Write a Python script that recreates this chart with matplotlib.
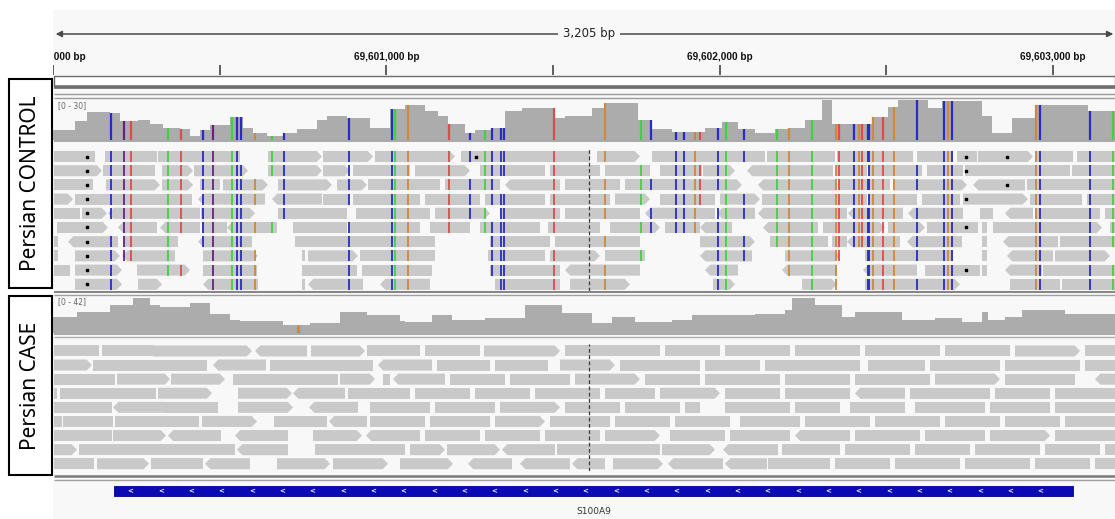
import matplotlib
matplotlib.use("Agg")
import matplotlib.pyplot as plt
from matplotlib.patches import Polygon, Rectangle
from matplotlib.collections import PatchCollection, LineCollection
import numpy as np

W, H = 1115, 519
START = 69_600_000          # genomic position of the left edge of the view
VIEW_BP = 3186              # visible width in bp
CENTER = 1608               # centre line offset (bp)
SPAN_LABEL = "3,205 bp"
TICK_POS = [0, 1000, 2000, 3000]
TICK_LABELS = ["69,600,000 bp", "69,601,000 bp", "69,602,000 bp", "69,603,000 bp"]
MINOR_TICKS = [500, 1500, 2500]

# ---- coverage (step profiles: offset in bp -> depth) ----
ctrl_cov_pos = [0, 66, 102, 171, 201, 255, 291, 330, 381, 411, 441, 471, 531, 570, 600, 642, 690,
                732, 792, 822, 882, 951, 1011, 1056, 1116, 1155, 1185, 1236, 1266, 1317, 1356, 1407,
                1506, 1536, 1617, 1656, 1755, 1797, 1857, 1956, 2007, 2055, 2106, 2166, 2205, 2256,
                2307, 2337, 2457, 2505, 2535, 2625, 2667, 2787, 2817, 2877, 2946, 3105]
ctrl_cov_val = [7, 14, 21, 20, 14, 15, 12, 9, 8, 3, 7, 11, 17, 9, 5, 3, 5,
                8, 15, 18, 16, 9, 23, 26, 22, 18, 12, 5, 7, 9, 22, 24,
                16, 18, 24, 28, 15, 8, 6, 9, 13, 8, 5, 8, 9, 15,
                30, 12, 17, 25, 30, 24, 29, 18, 5, 16, 26, 22]
case_cov_pos = [0, 72, 171, 240, 291, 321, 411, 471, 531, 561, 690, 771, 861, 942, 1041, 1056, 1137,
                1197, 1296, 1416, 1527, 1617, 1677, 1746, 1857, 1917, 2106, 2196, 2217, 2286, 2367,
                2406, 2547, 2646, 2727, 2787, 2805, 2856, 2907, 3036]
case_cov_val = [18, 24, 32, 40, 32, 30, 34, 22, 15, 14, 9, 11, 24, 20, 14, 13, 20,
                15, 17, 32, 23, 11, 18, 13, 15, 20, 22, 26, 40, 32, 18,
                24, 15, 17, 13, 24, 15, 18, 26, 22]

# ---- mismatches (offset bp, base) ----
ctrl_mm_pos = [174, 213, 234, 345, 384, 450, 480, 537, 552, 564, 606, 657, 693, 888, 1017, 1026, 1065,
               1188, 1251, 1296, 1317, 1344, 1353, 1503, 1656, 1764, 1794, 1869, 1893, 1926, 1941,
               1995, 2019, 2073, 2172, 2208, 2277, 2349, 2358, 2403, 2418, 2427, 2445, 2448, 2460,
               2490, 2523, 2592, 2673, 2685, 2697, 2949, 2961, 3111, 3180]
ctrl_mm_base = ["C", "P", "T", "A", "T", "C", "P", "A", "C", "C", "G", "A", "C", "C", "C", "A", "G",
                "T", "C", "A", "C", "C", "C", "T", "G", "A", "C", "C", "C", "G", "T",
                "C", "A", "C", "A", "G", "A", "G", "T", "C", "G", "T", "C", "C", "G",
                "T", "G", "C", "C", "G", "C", "G", "C", "C", "A"]
case_mm_pos = [735]
case_mm_base = ["G"]
case_mm_depth = [9]
BASE_COLORS = {"A": "#3fd23f", "C": "#2a2ac8", "G": "#d0883a", "T": "#e04a4a", "P": "#6a1f86"}

# ---- reads: (start, end, strand) per row; strand +1 '>' , -1 '<', 0 blunt ----
ctrl_reads = [
    [(3,126,0),(156,312,0),(315,561,0),(645,807,1),(810,960,1),(966,1206,1),(1224,1611,0),(1632,1761,1),
     (1797,1941,0),(1941,2136,0),(2142,2346,0),(2352,2580,0),(2592,2700,0),(2712,2772,0),(2775,2940,1),
     (2946,3060,0),(3072,3186,0)],
    [(3,147,1),(150,306,0),(327,420,1),(423,585,1),(645,807,1),(810,891,1),(900,1071,0),(1086,1251,1),
     (1281,1476,0),(1491,1641,0),(1656,1791,0),(1821,1947,0),(1950,2046,1),(2082,2340,-1),(2346,2442,0),
     (2445,2607,0),(2622,2730,0),(2736,3051,0),(3057,3186,0)],
    [(3,120,0),(159,321,1),(327,420,1),(441,501,0),(510,645,1),(675,837,1),(852,942,1),(945,1161,0),
     (1176,1341,0),(1356,1521,-1),(1536,1701,0),(1716,1911,0),(1911,2067,1),(2115,2352,-1),(2355,2511,0),
     (2520,2742,1),(2760,2916,-1),(2922,3186,0)],
    [(3,60,1),(66,207,0),(207,417,0),(435,636,-1),(657,807,-1),(810,891,0),(900,1101,0),(1116,1281,0),
     (1296,1476,0),(1491,1671,0),(1686,1791,1),(1821,1986,0),(2001,2121,1),(2127,2286,0),(2286,2442,0),
     (2445,2592,0),(2607,2721,0),(2730,2925,1),(2931,3087,0),(3102,3186,0)],
    [(3,81,0),(87,162,1),(165,441,-1),(444,606,1),(675,882,0),(909,1131,0),(1146,1311,1),(1341,1521,0),
     (1536,1761,0),(1776,1941,-1),(1941,1986,0),(1992,2106,-1),(2115,2382,-1),(2385,2550,-1),(2565,2730,-1),
     (2781,2820,0),(2856,2940,-1),(2946,3141,0),(3156,3186,0)],
    [(12,165,1),(195,312,-1),(321,441,-1),(447,522,0),(522,672,-1),(720,882,0),(885,1101,0),(1131,1251,0),
     (1281,1461,0),(1485,1641,0),(1671,1821,1),(1836,1941,0),(1941,2037,-1),(2130,2295,-1),(2310,2337,0),
     (2337,2496,1),(2505,2616,1),(2622,2730,0),(2730,2775,0),(2787,2802,0),(2820,2982,0),(2982,3147,1),
     (3171,3186,0)],
    [(3,15,0),(45,195,-1),(210,375,0),(435,597,-1),(726,876,0),(876,1041,0),(1041,1146,0),(1311,1491,0),
     (1506,1761,0),(1941,2106,1),(2151,2325,0),(2337,2382,0),(2382,2541,-1),(2562,2727,-1),(2787,2802,0),
     (2850,3015,-1),(3021,3186,0)],
    [(3,15,0),(66,201,1),(207,366,-1),(450,615,1),(747,756,0),(765,915,1),(921,1146,0),(1305,1476,0),
     (1491,1641,1),(1656,1776,0),(1941,2097,-1),(2196,2361,1),(2436,2700,0),(2787,2802,0),(2862,3000,-1),
     (3006,3171,1)],
    [(3,51,0),(66,207,1),(252,411,1),(450,612,0),(747,912,0),(927,1137,0),(1311,1521,0),(1536,1761,-1),
     (1956,2055,-1),(2187,2352,-1),(2430,2592,-1),(2616,2781,0),(2787,2802,0),(2856,2967,-1),(2970,3186,0)],
    [(66,207,1),(255,327,1),(450,615,-1),(747,756,0),(765,930,-1),(981,1131,-1),(1326,1521,0),(1551,1731,1),
     (1980,2046,1),(2247,2352,1),(2436,2721,1),(2871,3021,0),(3027,3186,0)],
]
case_reads = [
    [(3,138,0),(147,300,0),(300,597,1),(606,762,-1),(774,936,1),(942,1101,0),(1116,1281,0),(1293,1521,1),
     (1536,1821,0),(1836,2001,0),(2016,2211,0),(2226,2421,0),(2436,2661,0),(2676,2871,0),(2886,3081,1),
     (3096,3186,0)],
    [(3,117,1),(120,375,0),(375,462,0),(480,639,-1),(651,807,0),(807,960,0),(975,1137,-1),(1152,1311,0),
     (1326,1485,0),(1521,1686,1),(1701,1941,0),(1956,2121,0),(2136,2421,0),(2445,2616,0),(2631,2841,0),
     (2856,3081,0),(3096,3186,0)],
    [(3,30,0),(30,186,0),(192,351,1),(354,516,1),(540,702,0),(702,855,0),(861,966,1),(990,1011,0),
     (1020,1176,-1),(1191,1356,0),(1371,1551,0),(1566,1761,1),(1776,1941,0),(1956,2181,0),(2196,2391,0),
     (2406,2631,0),(2646,2841,1),(2856,3066,0),(3126,3186,-1)],
    [(3,12,0),(21,309,0),(315,477,1),(555,717,1),(720,876,-1),(885,1071,0),(1086,1251,0),(1266,1431,0),
     (1446,1641,0),(1656,1806,0),(1821,2001,1),(2016,2181,0),(2196,2391,0),(2406,2556,-1),(2571,2811,0),
     (2826,2991,0),(3006,3186,0)],
    [(3,177,0),(180,336,-1),(336,495,0),(555,720,1),(768,915,-1),(951,1131,0),(1146,1326,0),(1341,1521,1),
     (1536,1701,0),(1716,1881,0),(1896,1941,0),(2016,2211,0),(2226,2361,0),(2391,2556,0),(2586,2796,0),
     (2811,2991,0),(3006,3186,0)],
    [(3,27,0),(30,180,0),(186,282,0),(282,438,0),(447,612,1),(663,822,0),(828,942,-1),(951,1116,0),
     (1131,1311,0),(1326,1476,1),(1491,1671,0),(1686,1851,0),(1866,2031,0),(2061,2241,0),(2256,2451,0),
     (2466,2661,0),(2676,2841,0),(2856,3021,0),(3036,3186,0)],
    [(3,177,0),(180,339,1),(345,504,-1),(546,705,-1),(780,927,1),(939,1101,-1),(1116,1281,0),(1296,1461,0),
     (1476,1641,0),(1656,1821,1),(1851,2016,0),(2031,2211,0),(2226,2391,-1),(2406,2601,0),(2616,2796,0),
     (2811,2991,1),(3006,3186,0)],
    [(3,72,1),(78,231,0),(231,390,0),(390,546,0),(552,705,-1),(786,942,0),(942,1056,0),(1071,1176,1),
     (1182,1341,1),(1347,1506,-1),(1512,1671,0),(1671,1821,0),(1827,1986,1),(2010,2175,-1),(2187,2361,0),
     (2376,2571,0),(2586,2751,0),(2766,2961,0),(2976,3141,0),(3156,3186,0)],
    [(3,123,0),(132,288,1),(294,450,0),(456,591,-1),(672,831,1),(840,1005,1),(1041,1200,1),(1245,1377,-1),
     (1401,1551,-1),(1557,1656,-1),(1680,1830,1),(1845,2010,-1),(2016,2142,-1),(2145,2331,0),(2346,2511,0),
     (2526,2721,0),(2736,2931,0),(2946,3111,0),(3126,3186,0)],
]
# insertion markers in control reads (row, offset bp)
ctrl_ins = [(0,102),(1,102),(2,102),(3,102),(4,102),(5,102),(6,102),(7,102),(8,102),(9,102),
            (0,1269),(0,2739),(1,2739),(3,2739),(5,2739),(8,2739),(0,2862),(2,2862)]

GENE_NAME = "S100A9"
GENE_START, GENE_END = 183, 3060

READ_COLOR = "#c9c9c9"
COV_COLOR = "#acacac"
PANEL_BG = "#f8f8f8"

fig = plt.figure(figsize=(W / 100, H / 100), dpi=100, facecolor="white")


def px_axes(x0, y0, x1, y1, z=1):
    ax = fig.add_axes([x0 / W, 1 - y1 / H, (x1 - x0) / W, (y1 - y0) / H], zorder=z)
    ax.set_axis_off()
    ax.patch.set_alpha(0)
    return ax


# ---------- background / decorations (pixel space) ----------
bg = px_axes(0, 0, W, H, z=0)
bg.set_xlim(0, W)
bg.set_ylim(H, 0)
bg.add_patch(Rectangle((53, 10), W - 53, H - 10, fc=PANEL_BG, ec="none"))
bg.add_patch(Rectangle((54, 75.5), W - 54, 11, fc="white", ec="#6a6a6a", lw=1.0))
for y, c, lw in [(87, "#6f6f6f", 2.6), (93.5, "#9c9c9c", 1.0), (98, "#9c9c9c", 1.0),
                 (141, "#a8a8a8", 1.4), (292, "#7a7a7a", 1.3), (295, "#a0a0a0", 1.0),
                 (334, "#9a9a9a", 1.2), (336.5, "#b0b0b0", 1.0), (476, "#7a7a7a", 1.8),
                 (479.5, "#a0a0a0", 1.0)]:
    bg.plot([54, W], [y, y], color=c, lw=lw, solid_capstyle="butt")
bg.add_patch(Rectangle((9, 79), 43, 209, fc="white", ec="black", lw=1.5))
bg.add_patch(Rectangle((9, 296), 43, 179, fc="white", ec="black", lw=1.5))
bg.text(31, 183.5, "Persian CONTROL", rotation=90, ha="center", va="center",
        fontsize=15, family="Noto Sans", color="black")
bg.text(31, 385.5, "Persian CASE", rotation=90, ha="center", va="center",
        fontsize=15, family="Noto Sans", color="black")

XL = (START, START + VIEW_BP)

# ---------- ruler ----------
ru = px_axes(53, 10, W, 92)
ru.set_xlim(*XL)
ru.set_ylim(92, 10)
ru.annotate("", xy=(START + 8, 34), xytext=(START + VIEW_BP - 5, 34),
            arrowprops=dict(arrowstyle="<|-|>", color="#4a4a4a", lw=1.1, mutation_scale=9,
                            shrinkA=0, shrinkB=0))
ru.text(START + CENTER, 34, SPAN_LABEL, ha="center", va="center", fontsize=8.5,
        color="#222222", family="DejaVu Sans",
        bbox=dict(boxstyle="square,pad=0.45", fc=PANEL_BG, ec="none"))
for p, lab in zip(TICK_POS, TICK_LABELS):
    ru.text(START + p, 57, lab, ha="center", va="center", fontsize=7.2, fontweight="bold",
            family="Liberation Sans", color="#111111", clip_on=True)
ru.vlines([START + p for p in TICK_POS + MINOR_TICKS], 65, 74.5, color="#333333", lw=1.1)


# ---------- coverage tracks ----------
def coverage(ax, pos, val, ymax, mm_pos, mm_base, label, mm_depth=None, mm_lw=1.6):
    edges = np.array(pos + [VIEW_BP]) + START
    ax.stairs(val, edges, fill=True, color=COV_COLOR, baseline=0)
    ax.set_xlim(*XL)
    ax.set_ylim(0, ymax)
    if mm_depth is None:
        idx = np.searchsorted(pos, mm_pos, side="right") - 1
        mm_depth = np.array(val)[idx]
    ax.vlines(np.array(mm_pos) + START, 0, mm_depth,
              colors=[BASE_COLORS[b] for b in mm_base], lw=mm_lw)
    ax.text(0.005, 0.97, label, transform=ax.transAxes, ha="left", va="top",
            fontsize=5.5, color="#666666")


cc = px_axes(53, 100, W, 139.5)
coverage(cc, ctrl_cov_pos, ctrl_cov_val, 30, ctrl_mm_pos, ctrl_mm_base, "[0 - 30]")
kc = px_axes(53, 296, W, 333)
coverage(kc, case_cov_pos, case_cov_val, 42, case_mm_pos, case_mm_base, "[0 - 42]",
         mm_depth=case_mm_depth, mm_lw=2.2)


# ---------- read tracks ----------
def reads(ax, rows, mm_pos, mm_base, ins):
    tip, h = 16, 0.39
    patches, segs, cols = [], [], []
    for r, row in enumerate(rows):
        for s, e, d in row:
            s += START
            e += START
            if d > 0:
                pts = [(s, r - h), (e - tip, r - h), (e, r), (e - tip, r + h), (s, r + h)]
            elif d < 0:
                pts = [(s + tip, r - h), (e, r - h), (e, r + h), (s + tip, r + h), (s, r)]
            else:
                pts = [(s, r - h), (e, r - h), (e, r + h), (s, r + h)]
            patches.append(Polygon(pts, closed=True))
            for p, b in zip(mm_pos, mm_base):
                x = p + START
                if s + 2 <= x <= e - 2:
                    segs.append([(x, r - h), (x, r + h)])
                    cols.append(BASE_COLORS[b])
    ax.add_collection(PatchCollection(patches, facecolor=READ_COLOR, edgecolor="none"))
    if segs:
        ax.add_collection(LineCollection(segs, colors=cols, lw=1.3))
    if ins:
        ax.scatter([p + START for _, p in ins], [r for r, _ in ins], marker="s", s=3,
                   color="black", zorder=3)
    ax.axvline(START + CENTER, color="#3a3a3a", lw=0.9, ls=(0, (3, 2)), zorder=4)
    ax.set_xlim(*XL)
    ax.set_ylim(len(rows) - 0.5, -0.5)


cr = px_axes(53, 149.4, W, 291.4)
reads(cr, ctrl_reads, ctrl_mm_pos, ctrl_mm_base, ctrl_ins)
kr = px_axes(53, 343.9, W, 470.8)
reads(kr, case_reads, [], [], [])

# ---------- gene track ----------
ge = px_axes(53, 480, W, 519)
ge.set_xlim(*XL)
ge.set_ylim(39, 0)
ge.add_patch(Rectangle((START + GENE_START, 6), GENE_END - GENE_START, 10,
                       fc="#0a0ab4", ec="#000090", lw=0.6))
for x in np.arange(GENE_START + 50, GENE_END - 20, 91):
    ge.text(START + x, 11.3, "<", ha="center", va="center", fontsize=5,
            color="white", fontweight="bold")
ge.text(START + (GENE_START + GENE_END) / 2, 32, GENE_NAME, ha="center", va="center",
        fontsize=6.5, color="#333333")

fig.savefig("out.png", dpi=100, facecolor="white")
